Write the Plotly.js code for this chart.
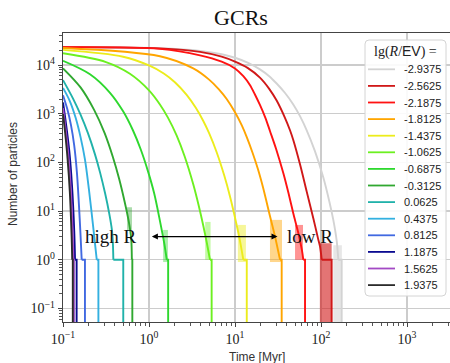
<!DOCTYPE html>
<html>
<head>
<meta charset="utf-8">
<script src="https://cdn.plot.ly/plotly-3.0.1.min.js"></script>
<style>
  html, body { margin: 0; padding: 0; background: #fff; }
  #chart { width: 450px; height: 363px; }
</style>
</head>
<body>
<div id="chart"></div>
<script>
// Rigidity bins, lg(R/EV)
const lgR = ['-2.9375', '-2.5625', '-2.1875', '-1.8125', '-1.4375', '-1.0625', '-0.6875',
             '-0.3125', '0.0625', '0.4375', '0.8125', '1.1875', '1.5625', '1.9375'];

// Zero survivors is stored as this floor so the drop can be drawn on a log axis
const ZERO = 0.01;

// Surviving particles vs time [Myr], one pair of arrays per rigidity bin
const t0  = [0.1, 1.34, 3.92, 7, 10, 14, 19.5, 25, 30.5, 38, 47.6, 57, 68.2, 85, 106, 125, 139, 152, 159, 174, 174];
const n0  = [23500, 22100, 19500, 16600, 14100, 11200, 8130, 5890, 4170, 2690, 1550, 891, 457, 170, 50.1, 15.8, 6.6, 2.5, 1, 1, ZERO];
const t1  = [0.1, 1.34, 3.92, 7, 10, 14, 19.5, 25, 30.5, 38, 43.6, 47.6, 57, 68.2, 81.5, 92, 97.2, 102, 133, 133];
const n1  = [23300, 21900, 18600, 14800, 11700, 8710, 5500, 3240, 1860, 832, 457, 288, 91.2, 25.1, 7.08, 2.82, 1.91, 1, 1, ZERO];
const t2  = [0.1, 1.34, 3.92, 7, 10, 12.5, 14.9, 17, 19.5, 22.5, 25.5, 30, 36.5, 42, 47.6, 54.5, 60, 62.3, 65.2, 65.2];
const n2  = [23200, 21400, 15800, 11700, 8510, 5890, 3890, 2510, 1510, 832, 442, 191, 59.7, 22.9, 9.0, 3.55, 1.58, 1, 1, ZERO];
const t3  = [0.1, 1.34, 3.27, 5, 6.5, 8, 10, 12, 13.7, 16, 18.5, 21.3, 25.5, 29.2, 33.4, 34.9, 34.9];
const n3  = [22300, 15100, 8510, 5010, 3160, 2000, 1070, 575, 331, 158, 72.4, 29.5, 7.94, 3.02, 1, 1, ZERO];
const t4  = [0.1, 0.5, 1, 1.5, 2, 2.74, 3.5, 4.28, 5, 6.12, 7.5, 8.75, 10.5, 11.4, 12.5, 13.7, 13.7];
const n4  = [20400, 14800, 9770, 6610, 4420, 2430, 1320, 708, 398, 162, 53.7, 20.0, 5.01, 2.51, 1, 1, ZERO];
const t5  = [0.1, 0.316, 0.6, 1, 1.34, 1.66, 2.1, 2.6, 3.27, 3.8, 4.28, 4.7, 5.12, 5.35, 5.35];
const n5  = [17400, 11500, 6610, 3020, 1550, 832, 355, 132, 35.5, 12.6, 5.01, 2.24, 1, 1, ZERO];
const t6  = [0.1, 0.206, 0.352, 0.5, 0.65, 0.8, 0.98, 1.15, 1.34, 1.5, 1.61, 1.67, 1.67];
const n6  = [12200, 6460, 2690, 1120, 457, 186, 63.1, 22.9, 6.31, 2.24, 1, 1, ZERO];
const t7  = [0.1, 0.16, 0.23, 0.305, 0.38, 0.45, 0.52, 0.58, 0.62, 0.632, 0.64, 0.64];
const n7  = [8550, 3470, 1200, 398, 129, 45.7, 15.8, 6.31, 2.82, 1, 1, ZERO];
const t8  = [0.1, 0.13, 0.16, 0.195, 0.235, 0.27, 0.31, 0.345, 0.37, 0.38, 0.385, 0.502, 0.502];
const n8  = [4900, 2090, 955, 398, 148, 61.7, 22.4, 8.91, 4.17, 2.24, 1, 1, ZERO];
const t9  = [0.1, 0.12, 0.14, 0.16, 0.18, 0.2, 0.223, 0.247, 0.258, 0.258];
const n9  = [3390, 1820, 832, 331, 115, 28.2, 5.25, 1, 1, ZERO];
const t10 = [0.1, 0.112, 0.124, 0.135, 0.145, 0.153, 0.16, 0.165, 0.18, 0.18];
const n10 = [2400, 1260, 575, 224, 63.1, 14.1, 3.16, 1, 1, ZERO];
const t11 = [0.1, 0.108, 0.118, 0.127, 0.135, 0.138, 0.144, 0.144];
const n11 = [1700, 650, 180, 35, 4, 1, 1, ZERO];
const t12 = [0.1, 0.107, 0.115, 0.123, 0.13, 0.132, 0.134, 0.134];
const n12 = [1300, 500, 150, 30, 3, 1, 1, ZERO];
const t13 = [0.1, 0.106, 0.113, 0.12, 0.126, 0.128, 0.13, 0.13];
const n13 = [990, 400, 120, 25, 3, 1, 1, ZERO];

const times  = [t0, t1, t2, t3, t4, t5, t6, t7, t8, t9, t10, t11, t12, t13];
const counts = [n0, n1, n2, n3, n4, n5, n6, n7, n8, n9, n10, n11, n12, n13];

// Run-to-run spread near the end of each curve: bin index, time span, count span
const bandBin  = [0, 1, 2, 3, 4, 5, 6, 7];
const bandT0   = [139, 97, 49.9, 25.5, 10.8, 4.5, 1.46, 0.555];
const bandT1   = [175, 133, 61.8, 35.2, 13.4, 5.2, 1.66, 0.634];
const bandNhi  = [2.0, 2.2, 5.2, 6.6, 5.2, 6, 4.1, 12];
const bandNlo  = [ZERO, ZERO, 1.0, 0.9, 0.9, 1, 0.9, 4.1];

// Line colours per bin
const colors = ['#d3d3d3', '#d01818', '#ff1212', '#ffa500', '#ecec1c', '#6cf020', '#2ed82e',
                '#30a830', '#20b2aa', '#33b0e0', '#4169e1', '#0a0a90', '#a349c4', '#2b2b2b'];
const bandAlpha = [0.55, 0.6, 0.45, 0.45, 0.45, 0.4, 0.4, 0.4];

function rgba(hex, a) {
  const v = parseInt(hex.slice(1), 16);
  return `rgba(${(v >> 16) & 255},${(v >> 8) & 255},${v & 255},${a})`;
}

const traces = [];
bandBin.forEach((b, k) => {
  traces.push({
    type: 'scatter', mode: 'lines', hoverinfo: 'skip',
    x: [bandT0[k], bandT1[k], bandT1[k], bandT0[k], bandT0[k]],
    y: [bandNhi[k], bandNhi[k], bandNlo[k], bandNlo[k], bandNhi[k]],
    fill: 'toself', fillcolor: rgba(colors[b], bandAlpha[k]),
    line: { width: 0 }
  });
});
// Each curve: smooth decay up to the last particle, then the sharp step down to zero
lgR.forEach((lab, i) => {
  const t = times[i], n = counts[i];
  const k = n.indexOf(1);
  traces.push({
    type: 'scatter', mode: 'lines', name: lab,
    x: t.slice(0, k + 1), y: n.slice(0, k + 1),
    line: { color: colors[i], width: 1.9, shape: 'spline', smoothing: 0.9 }
  });
  traces.push({
    type: 'scatter', mode: 'lines', name: lab,
    x: t.slice(k), y: n.slice(k),
    line: { color: colors[i], width: 1.9 }
  });
});

// Plot frame in pixels, used to place the hand-built legend and labels
const PL = 63, PR = 450, PT = 33, PB = 322;
const px = v => (v - PL) / (PR - PL);
const py = v => (PB - v) / (PB - PT);

const serif = 'Liberation Serif, Times New Roman, serif';
const sans = 'Liberation Sans, Arial, sans-serif';
const axisCol = '#444';

const shapes = [];
const annotations = [];

// Legend frame with rounded corners
(function () {
  const x0 = 365, x1 = 446, y0 = 40, y1 = 296, r = 4;
  const P = (a, b) => `${px(a)},${py(b)}`;
  shapes.push({
    type: 'path', xref: 'paper', yref: 'paper', layer: 'above',
    path: `M ${P(x0 + r, y0)} L ${P(x1 - r, y0)} Q ${P(x1, y0)} ${P(x1, y0 + r)} ` +
          `L ${P(x1, y1 - r)} Q ${P(x1, y1)} ${P(x1 - r, y1)} L ${P(x0 + r, y1)} ` +
          `Q ${P(x0, y1)} ${P(x0, y1 - r)} L ${P(x0, y0 + r)} Q ${P(x0, y0)} ${P(x0 + r, y0)} Z`,
    fillcolor: 'rgba(255,255,255,0.9)', line: { color: '#d4d4d4', width: 1 }
  });
})();
annotations.push({
  xref: 'paper', yref: 'paper', x: px(405), y: py(51.5), xanchor: 'center', yanchor: 'middle',
  showarrow: false,
  text: 'lg(<i>R</i>/<span style="font-family:Liberation Sans">EV</span>) =',
  font: { family: serif, size: 14, color: '#222' }
});
lgR.forEach((lab, i) => {
  const yy = 69.3 + i * 16.6;
  shapes.push({
    type: 'line', xref: 'paper', yref: 'paper', layer: 'above',
    x0: px(368), x1: px(395), y0: py(yy), y1: py(yy),
    line: { color: colors[i], width: 1.8 }
  });
  annotations.push({
    xref: 'paper', yref: 'paper', x: px(402), y: py(yy), xanchor: 'left', yanchor: 'middle',
    showarrow: false, text: lab, font: { family: sans, size: 11, color: '#222' }
  });
});

// Direction of rigidity
const arrowN = 3, arrowLeft = 1.08, arrowRight = 32.5;
annotations.push({
  xref: 'x', yref: 'y', axref: 'x', ayref: 'y',
  x: Math.log10(arrowLeft), y: Math.log10(arrowN),
  ax: Math.log10(arrowRight), ay: Math.log10(arrowN),
  text: '', showarrow: true, arrowhead: 2, arrowside: 'end+start',
  arrowsize: 1, arrowwidth: 1.2, arrowcolor: '#000'
});
annotations.push({
  xref: 'x', yref: 'y', x: Math.log10(0.366), y: Math.log10(arrowN), showarrow: false,
  text: 'high R', font: { family: serif, size: 19, color: '#111' }, xanchor: 'center', yanchor: 'middle'
});
annotations.push({
  xref: 'x', yref: 'y', x: Math.log10(74.5), y: Math.log10(arrowN), showarrow: false,
  text: 'low R', font: { family: serif, size: 19, color: '#111' }, xanchor: 'center', yanchor: 'middle'
});

// Axis titles
annotations.push({
  xref: 'paper', yref: 'paper', x: px(257), y: py(357), showarrow: false,
  text: 'Time [Myr]', font: { family: sans, size: 12, color: '#333' },
  xanchor: 'center', yanchor: 'middle'
});
annotations.push({
  xref: 'paper', yref: 'paper', x: px(13), y: py(174), showarrow: false, textangle: -90,
  text: 'Number of particles', font: { family: sans, size: 12, color: '#333' },
  xanchor: 'center', yanchor: 'middle'
});

const xTicks = [0.1, 1, 10, 100, 1000];
const xTickText = ['10<sup>−1</sup>', '10<sup>0</sup>', '10<sup>1</sup>', '10<sup>2</sup>', '10<sup>3</sup>'];
const yTicks = [0.1, 1, 10, 100, 1000, 10000];
const yTickText = ['10<sup>−1</sup>', '10<sup>0</sup>', '10<sup>1</sup>', '10<sup>2</sup>', '10<sup>3</sup>', '10<sup>4</sup>'];

const axisCommon = {
  type: 'log', ticks: 'outside', ticklen: 4, tickwidth: 1, tickcolor: axisCol,
  showline: true, linecolor: axisCol, linewidth: 1.3,
  showgrid: true, gridcolor: '#cccccc', gridwidth: 1.3, zeroline: false,
  tickfont: { family: serif, size: 14, color: '#222' },
  minor: { ticks: 'outside', ticklen: 3, tickwidth: 0.9, tickcolor: axisCol, dtick: 'D1', showgrid: false }
};

const layout = {
  width: 450, height: 363,
  margin: { l: PL, r: 450 - PR, t: PT, b: 363 - PB },
  paper_bgcolor: '#fff', plot_bgcolor: '#fff',
  showlegend: false,
  title: {
    text: 'GCRs', font: { family: serif, size: 22, color: '#111' },
    xref: 'paper', x: px(241), xanchor: 'center',
    yref: 'container', y: 1 - 17 / 363, yanchor: 'middle'
  },
  xaxis: Object.assign({}, axisCommon, {
    range: [-1, 3.5], tickmode: 'array', tickvals: xTicks, ticktext: xTickText, mirror: true
  }),
  yaxis: Object.assign({}, axisCommon, {
    range: [-1.277, 4.657], tickmode: 'array', tickvals: yTicks, ticktext: yTickText, mirror: false
  }),
  shapes: shapes,
  annotations: annotations
};

Plotly.newPlot('chart', traces, layout, { staticPlot: true, displayModeBar: false });
</script>
</body>
</html>
